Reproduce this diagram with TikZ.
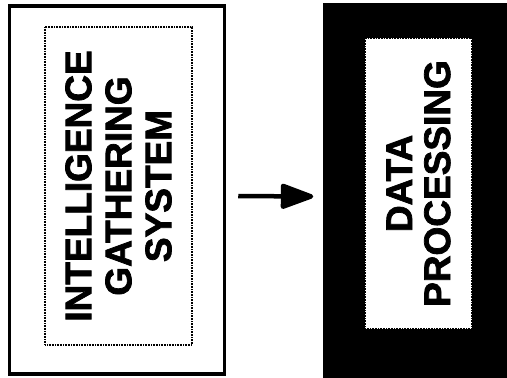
\documentclass[tikz,border=0pt]{standalone}
\usepackage{fontspec}
\setmainfont{Liberation Sans}[BoldFeatures={FakeBold=2}]
\usetikzlibrary{arrows.meta,positioning}

\begin{document}
\begin{tikzpicture}[x=1pt, y=-1pt, >={Triangle[length=37pt,width=26pt,round]},
  outerbox/.style={draw, line width=3.5pt, inner sep=0pt},
  innerbox/.style={draw, dash pattern=on 1pt off 0.6pt, line width=1.3pt, fill=white, inner sep=0pt,
    rotate=90, align=center},
  bigtext/.style={font=\fontsize{37}{#1}\selectfont\bfseries}]
  \useasboundingbox (0,0) rectangle (507,378);

  % Intelligence gathering block
  \node[outerbox, minimum width=215pt, minimum height=368pt] (gather) at (117,190) {};
  \node[innerbox, bigtext=40, minimum width=318pt, minimum height=147pt] (gatherlbl) at (118.5,186)
    {INTELLIGENCE\\GATHERING\\SYSTEM};

  % Data processing block
  \node[outerbox, fill=black, minimum width=180pt, minimum height=371pt] (proc) at (415,190.5) {};
  \node[innerbox, bigtext=38, minimum width=291pt, minimum height=107pt] (proclbl) at (418.5,183.5)
    {DATA\\PROCESSING};

  % Flow
  \draw[->, line width=4.5pt, shorten <=12pt, shorten >=10pt]
    ([yshift=-6pt]gather.east) -- ([yshift=-6pt]proc.west);
\end{tikzpicture}
\end{document}
